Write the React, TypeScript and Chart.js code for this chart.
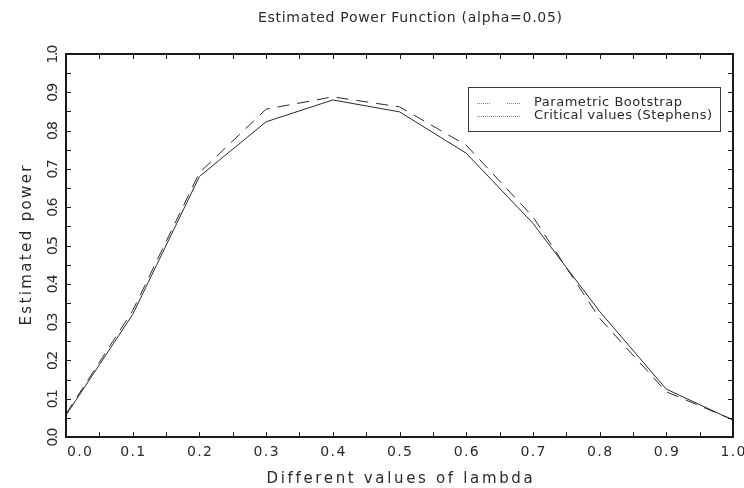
import React, { useEffect, useRef } from "react";
import { Chart, registerables } from "chart.js";

Chart.register(...registerables);

// ---- data ----
const lambdaValues = [0.0, 0.1, 0.2, 0.3, 0.4, 0.5, 0.6, 0.7, 0.8, 0.9, 1.0];
const bootstrapPower = [0.06, 0.33, 0.69, 0.856, 0.888, 0.862, 0.762, 0.575, 0.31, 0.118, 0.045];
const stephensPower = [0.057, 0.32, 0.68, 0.823, 0.88, 0.849, 0.741, 0.558, 0.328, 0.125, 0.044];
const xTickLabels = ["0.0", "0.1", "0.2", "0.3", "0.4", "0.5", "0.6", "0.7", "0.8", "0.9", "1.0"];
const yTickLabels = ["0.0", "0.1", "0.2", "0.3", "0.4", "0.5", "0.6", "0.7", "0.8", "0.9", "1.0"];
const seriesNames = ["Parametric Bootstrap", "Critical values (Stephens)"];
const titleText = "Estimated Power Function (alpha=0.05)";
const xAxisTitle = "Different values of lambda";
const yAxisTitle = "Estimated power";

const FONT = '"DejaVu Sans", "Liberation Sans", sans-serif';
const INK = "#2a2a2a";

function spacedText(
  ctx: CanvasRenderingContext2D,
  text: string,
  x: number,
  y: number,
  size: number,
  target: number,
  align: "left" | "center" | "right"
) {
  ctx.save();
  ctx.font = `${size}px ${FONT}`;
  (ctx as any).letterSpacing = "0px";
  const w0 = ctx.measureText(text).width;
  const n = text.length;
  const ls = n > 1 ? (target - w0) / (n - 1) : 0;
  (ctx as any).letterSpacing = `${ls}px`;
  ctx.textAlign = "left";
  ctx.textBaseline = "middle";
  ctx.fillStyle = INK;
  const sx = align === "center" ? x - target / 2 : align === "right" ? x - target : x;
  ctx.fillText(text, sx, y);
  ctx.restore();
}

const decorPlugin = {
  id: "decor",
  afterDraw(chart: any) {
    const ctx: CanvasRenderingContext2D = chart.ctx;
    const { left, right, top, bottom } = chart.chartArea;
    const xs = chart.scales.x;
    const ys = chart.scales.y;

    ctx.save();
    // frame
    ctx.strokeStyle = "#1a1a1a";
    ctx.lineWidth = 2;
    ctx.strokeRect(left, top, right - left, bottom - top);

    // inner ticks every 0.05
    ctx.lineWidth = 1;
    ctx.beginPath();
    for (let i = 1; i < 20; i++) {
      const v = i * 0.05;
      const px = Math.round(xs.getPixelForValue(v)) + 0.5;
      ctx.moveTo(px, bottom);
      ctx.lineTo(px, bottom - 5);
      ctx.moveTo(px, top);
      ctx.lineTo(px, top + 5);
      const py = Math.round(ys.getPixelForValue(v)) + 0.5;
      ctx.moveTo(left, py);
      ctx.lineTo(left + 5, py);
      ctx.moveTo(right, py);
      ctx.lineTo(right - 5, py);
    }
    ctx.stroke();
    ctx.restore();

    // x tick labels
    xTickLabels.forEach((lab, i) => {
      const px = xs.getPixelForValue(lambdaValues[i]);
      if (i === 0) spacedText(ctx, lab, px + 1, 452, 14, 25, "left");
      else spacedText(ctx, lab, px, 452, 14, 25, "center");
    });

    // y tick labels (rotated)
    yTickLabels.forEach((lab, i) => {
      const py = ys.getPixelForValue(i / 10);
      ctx.save();
      ctx.translate(53, py);
      ctx.rotate(-Math.PI / 2);
      spacedText(ctx, lab, 0, 0, 14, 19, "center");
      ctx.restore();
    });

    // titles
    spacedText(ctx, titleText, 410, 18, 14, 304, "center");
    spacedText(ctx, xAxisTitle, (left + right) / 2, 479, 15, 266, "center");
    ctx.save();
    ctx.translate(27, (top + bottom) / 2);
    ctx.rotate(-Math.PI / 2);
    spacedText(ctx, yAxisTitle, 0, 0, 15, 160, "center");
    ctx.restore();

    // legend
    ctx.save();
    ctx.strokeStyle = "#3a3a3a";
    ctx.lineWidth = 1;
    ctx.strokeRect(468.5, 87.5, 252, 44);
    ctx.strokeStyle = "#888";
    ctx.setLineDash([1, 1]);
    ctx.beginPath();
    ctx.moveTo(477, 103.5);
    ctx.lineTo(491, 103.5);
    ctx.moveTo(507, 103.5);
    ctx.lineTo(520, 103.5);
    ctx.moveTo(477, 116.5);
    ctx.lineTo(520, 116.5);
    ctx.stroke();
    ctx.restore();
    spacedText(ctx, seriesNames[0], 534, 103, 13, 148, "left");
    spacedText(ctx, seriesNames[1], 534, 116, 13, 178, "left");
  },
};

export default function App() {
  const ref = useRef<HTMLCanvasElement | null>(null);
  useEffect(() => {
    if (!ref.current) return;
    const chart = new Chart(ref.current, {
      type: "line",
      data: {
        datasets: [
          {
            label: seriesNames[0],
            data: lambdaValues.map((x, i) => ({ x, y: bootstrapPower[i] })),
            borderColor: "#2a2a2a",
            borderWidth: 1,
            borderDash: [12, 8],
            pointRadius: 0,
            tension: 0,
            fill: false,
          },
          {
            label: seriesNames[1],
            data: lambdaValues.map((x, i) => ({ x, y: stephensPower[i] })),
            borderColor: "#2a2a2a",
            borderWidth: 1,
            pointRadius: 0,
            tension: 0,
            fill: false,
          },
        ],
      },
      options: {
        animation: false,
        responsive: false,
        devicePixelRatio: 1,
        layout: { padding: { left: 66, top: 54, right: 11, bottom: 51 } },
        plugins: {
          legend: { display: false },
          title: { display: false },
          tooltip: { enabled: false },
        },
        scales: {
          x: { type: "linear", min: 0, max: 1, display: false },
          y: { type: "linear", min: 0, max: 1, display: false },
        },
      },
      plugins: [decorPlugin],
    });
    return () => chart.destroy();
  }, []);
  return (
    <div style={{ position: "absolute", left: 0, top: 0, width: 744, height: 488, background: "#fff" }}>
      <canvas ref={ref} width={744} height={488} style={{ display: "block" }} />
    </div>
  );
}
